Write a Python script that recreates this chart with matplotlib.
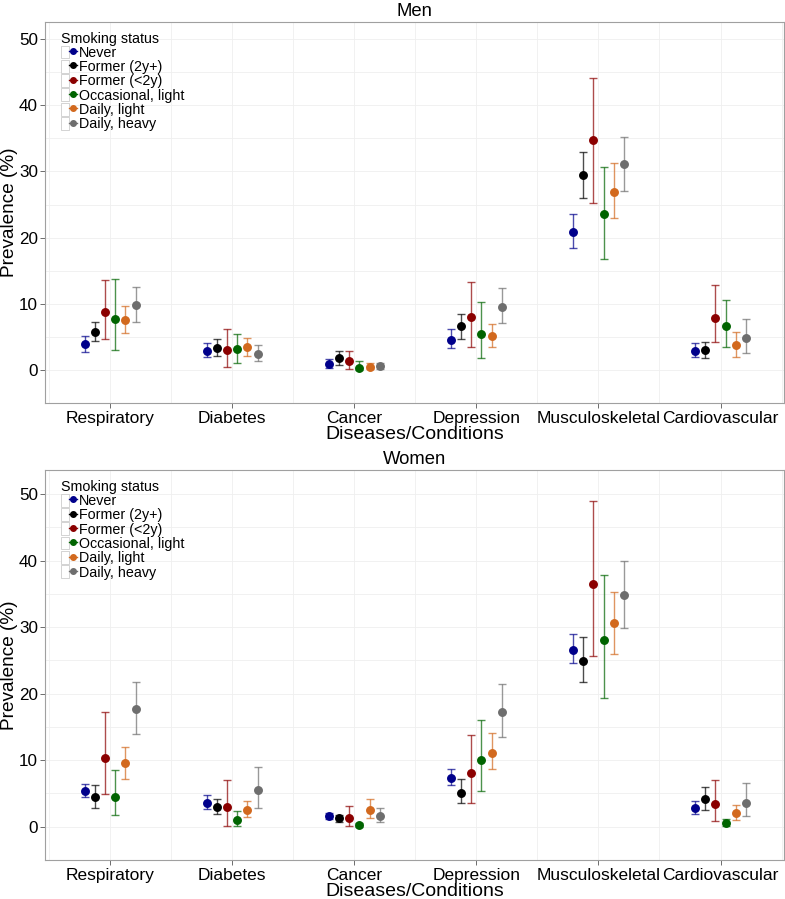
import matplotlib
matplotlib.use("Agg")
import matplotlib.pyplot as plt
from matplotlib.lines import Line2D
from matplotlib.patches import Patch
from matplotlib.legend_handler import HandlerTuple
import numpy as np

plt.rcParams['font.family'] = ['Liberation Sans', 'DejaVu Sans']

categories = ["Respiratory", "Diabetes", "Cancer", "Depression", "Musculoskeletal", "Cardiovascular"]
statuses = ["Never", "Former (2y+)", "Former (<2y)", "Occasional, light", "Daily, light", "Daily, heavy"]
colors = ["#00008B", "#000000", "#8B0000", "#006400", "#D2691E", "#6E6E6E"]

# rows: smoking status, columns: categories
men_prev = [
    [3.9, 2.9, 0.9, 4.6, 20.9, 2.9],
    [5.8, 3.3, 1.8, 6.6, 29.5, 3.0],
    [8.8, 3.0, 1.3, 8.0, 34.7, 7.9],
    [7.7, 3.1, 0.35, 5.5, 23.6, 6.7],
    [7.6, 3.5, 0.45, 5.2, 26.9, 3.7],
    [9.8, 2.4, 0.55, 9.5, 31.1, 4.9],
]
men_lower = [
    [2.7, 2.0, 0.25, 3.3, 18.4, 2.0],
    [4.4, 2.1, 0.8, 4.7, 26.0, 1.8],
    [4.7, 0.5, 0.1, 3.4, 25.2, 4.2],
    [3.0, 1.1, 0.0, 1.8, 16.7, 3.5],
    [5.6, 2.1, 0.1, 3.5, 22.9, 1.9],
    [7.2, 1.35, 0.1, 7.1, 27.0, 2.6],
]
men_upper = [
    [5.1, 4.1, 1.7, 6.2, 23.5, 4.0],
    [7.3, 4.7, 2.8, 8.5, 33.0, 4.2],
    [13.6, 6.2, 2.8, 13.3, 44.1, 12.9],
    [13.8, 5.4, 1.35, 10.3, 30.7, 10.6],
    [9.7, 4.8, 1.0, 7.0, 31.3, 5.7],
    [12.5, 3.7, 1.05, 12.4, 35.2, 7.7],
]
women_prev = [
    [5.4, 3.6, 1.6, 7.3, 26.6, 2.8],
    [4.4, 3.0, 1.25, 5.1, 24.9, 4.2],
    [10.3, 3.0, 1.25, 8.0, 36.4, 3.35],
    [4.45, 1.05, 0.2, 10.0, 28.0, 0.5],
    [9.6, 2.5, 2.5, 11.1, 30.6, 2.05],
    [17.7, 5.45, 1.6, 17.2, 34.8, 3.6],
]
women_lower = [
    [4.5, 2.7, 1.15, 6.2, 24.6, 1.95],
    [2.8, 1.9, 0.7, 3.6, 21.8, 2.55],
    [4.85, 0.15, 0.05, 3.55, 25.7, 0.8],
    [1.7, 0.15, 0.0, 5.4, 19.4, 0.05],
    [7.2, 1.45, 1.25, 8.6, 26.0, 0.95],
    [13.9, 2.85, 0.7, 13.5, 29.8, 1.55],
]
women_upper = [
    [6.4, 4.75, 2.1, 8.6, 28.9, 3.9],
    [6.3, 4.1, 1.8, 7.1, 28.5, 5.95],
    [17.3, 7.0, 3.1, 13.75, 49.0, 6.95],
    [8.5, 2.35, 0.55, 16.1, 37.8, 1.1],
    [12.0, 3.9, 4.1, 14.1, 35.2, 3.2],
    [21.8, 9.0, 2.85, 21.5, 40.0, 6.55],
]
yticks = [0, 10, 20, 30, 40, 50]

W, H = 785, 899
fig = plt.figure(figsize=(W / 100, H / 100), dpi=100)

def px_axes(left, top, right, bottom):
    return fig.add_axes([left / W, 1 - bottom / H, (right - left) / W, (bottom - top) / H])

ax_men = px_axes(45, 22, 784, 403)
ax_women = px_axes(45, 470, 784, 860)

dodge = 0.5 / 6
xbase = np.arange(1, len(categories) + 1)

def draw(ax, prev, lower, upper, title, ylim):
    for i, (p, lo, hi, c) in enumerate(zip(prev, lower, upper, colors)):
        p = np.array(p); lo = np.array(lo); hi = np.array(hi)
        x = xbase + (i - 2.5) * dodge
        ax.errorbar(x, p, yerr=[p - lo, hi - p], fmt='none', ecolor=c, elinewidth=1.0,
                    capsize=2.6, capthick=1.0, alpha=0.7, zorder=3)
        ax.plot(x, p, 'o', color=c, markersize=5.4, zorder=4)
    ax.set_xlim(0.467, 6.52)
    ax.set_ylim(*ylim)
    ax.set_xticks(xbase)
    ax.set_xticklabels(categories, fontsize=12.5)
    ax.set_xticks(np.arange(0.5, 7.0, 0.5), minor=True)
    ax.set_yticks(yticks)
    ax.set_yticklabels([str(v) for v in yticks], fontsize=12.3)
    ax.set_yticks(np.arange(-5, 55, 5), minor=True)
    ax.grid(True, which='both', color='#EFEFEF', linewidth=0.6, zorder=0)
    ax.set_axisbelow(True)
    ax.tick_params(axis='both', which='major', length=3.5, width=0.6, color='#555555',
                   labelcolor='black', pad=1.5)
    ax.tick_params(axis='x', which='major', pad=2.0)
    ax.tick_params(axis='both', which='minor', length=0)
    for s in ax.spines.values():
        s.set_color('#A0A0A0')
        s.set_linewidth(0.8)
    ax.set_title(title, fontsize=13.3, pad=4)
    ax.set_xlabel("Diseases/Conditions", fontsize=14, labelpad=0)
    ax.set_ylabel("Prevalence (%)", fontsize=13.7, labelpad=1)

    handles = [(Patch(facecolor='white', edgecolor='#CCCCCC', linewidth=0.6),
                Line2D([0], [0], color=c, marker='o', markersize=4, linewidth=1.0))
               for c in colors]
    leg = ax.legend(handles, statuses, title="Smoking status", loc='upper left',
                    bbox_to_anchor=(0.022, 0.975), frameon=False, fontsize=10.3,
                    title_fontsize=10.3, handlelength=1.1, handleheight=1.0,
                    handletextpad=0.15, labelspacing=0.0, borderpad=0, borderaxespad=0,
                    handler_map={tuple: HandlerTuple(ndivide=None, pad=0)})
    leg._legend_box.align = "left"
    leg.set_zorder(5)

draw(ax_men, men_prev, men_lower, men_upper, "Men", (-2.46, 52.6))
draw(ax_women, women_prev, women_lower, women_upper, "Women", (-2.44, 53.6))

fig.savefig("out.png", dpi=100)
